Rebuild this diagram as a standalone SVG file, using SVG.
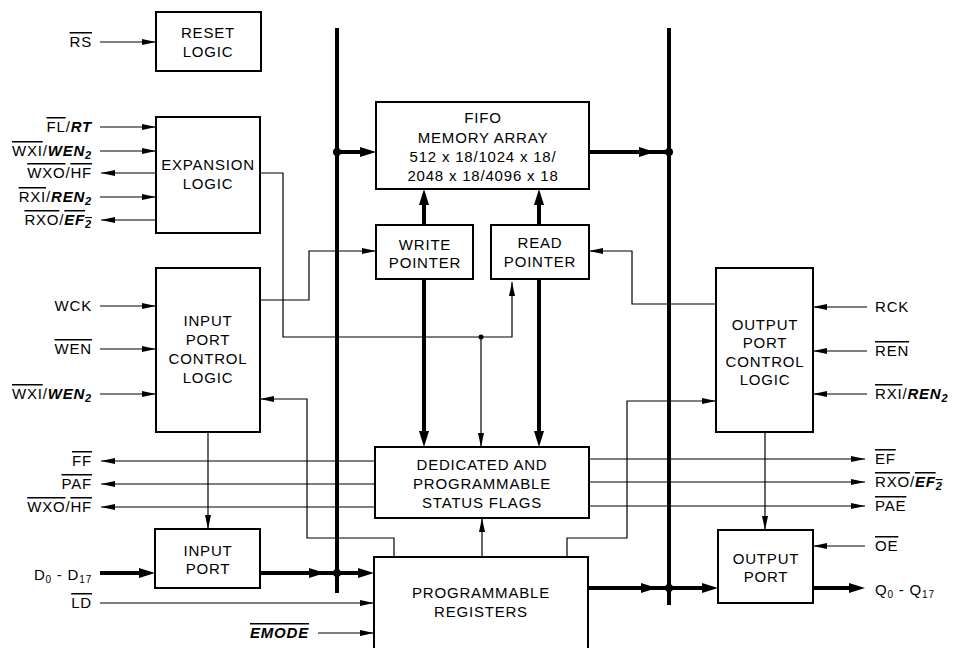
<svg xmlns="http://www.w3.org/2000/svg" width="953" height="648" viewBox="0 0 953 648">
<defs>
<marker id="ah" markerUnits="userSpaceOnUse" markerWidth="14" markerHeight="6" refX="14" refY="3" orient="auto"><path d="M0,0 L14,3 L0,6 z" fill="#000"/></marker>
<marker id="AH" markerUnits="userSpaceOnUse" markerWidth="16" markerHeight="10" refX="8" refY="5" orient="auto"><path d="M0,0 L16,5 L0,10 z" fill="#000"/></marker>
<style>
.box{fill:#fff;stroke:#000;stroke-width:2}
.t{font-family:"Liberation Sans",Arial,sans-serif;font-size:15px;letter-spacing:0.8px;fill:#000}
.c{text-anchor:middle}
.r{text-anchor:end}
.w{stroke:#000;stroke-width:1.2;fill:none}
.wa{stroke:#000;stroke-width:1.2;fill:none;marker-end:url(#ah)}
.k{stroke:#000;stroke-width:4;fill:none}
.ka{stroke:#000;stroke-width:4;fill:none;marker-end:url(#AH)}
.bi{font-weight:bold;font-style:italic}
.o{text-decoration:overline}
.dot{fill:#000}
</style>
</defs>
<rect width="953" height="648" fill="#fff"/>

<g id="connectors">
  <path class="k" d="M337,28 V593 M669,28 V605"/>
  <path class="ka" d="M337,152 H368"/>
  <path class="k" d="M589,152 H669"/>
  <path class="ka" d="M600,152 H647"/>
  <path class="ka" d="M424,225 V197"/>
  <path class="ka" d="M539,225 V197"/>
  <path class="ka" d="M424,279 V439"/>
  <path class="ka" d="M539,279 V439"/>
  <path class="ka" d="M100,573 H147"/>
  <path class="ka" d="M260,573 H366"/>
  <path class="ka" d="M280,573 H317"/>
  <path class="ka" d="M588,588 H710"/>
  <path class="ka" d="M600,588 H649"/>
  <path class="ka" d="M813,588 H857"/>

  <path class="wa" d="M100,42 H156"/>
  <path class="wa" d="M100,127 H156"/>
  <path class="wa" d="M100,151 H156"/>
  <path class="wa" d="M156,173 H101"/>
  <path class="wa" d="M100,197 H156"/>
  <path class="wa" d="M156,220 H101"/>
  <path class="wa" d="M100,306 H156"/>
  <path class="wa" d="M100,349 H156"/>
  <path class="wa" d="M100,394 H156"/>
  <path class="wa" d="M375,461 H101"/>
  <path class="wa" d="M375,484 H101"/>
  <path class="wa" d="M375,507 H101"/>
  <path class="wa" d="M100,603 H374"/>
  <path class="wa" d="M318,633 H374"/>
  <path class="wa" d="M867,307 H813"/>
  <path class="wa" d="M867,351 H813"/>
  <path class="wa" d="M867,394 H813"/>
  <path class="wa" d="M589,459 H865"/>
  <path class="wa" d="M589,482 H865"/>
  <path class="wa" d="M589,506 H865"/>
  <path class="wa" d="M865,546 H813"/>
  <path class="wa" d="M260,173 H283 V337 H512 V282"/>
  <path class="wa" d="M481,337 V447"/>
  <path class="wa" d="M260,300 H309 V251 H376"/>
  <path class="wa" d="M394,557 V538 H307 V399 H260"/>
  <path class="wa" d="M567,557 V538 H627 V401 H716"/>
  <path class="wa" d="M716,304 H632 V251 H589"/>
  <path class="wa" d="M208,432 V529"/>
  <path class="wa" d="M765,432 V530"/>
  <path class="wa" d="M482,557 V518"/>

  <circle class="dot" cx="337" cy="152" r="4"/>
  <circle class="dot" cx="669" cy="152" r="4"/>
  <circle class="dot" cx="337" cy="573" r="4"/>
  <circle class="dot" cx="669" cy="588" r="4"/>
  <circle class="dot" cx="481" cy="337" r="2.5"/>
</g>

<g id="reset-logic">
  <rect class="box" x="156" y="12" width="105" height="59"/>
  <text class="t c" x="208" y="38">RESET</text>
  <text class="t c" x="208" y="57">LOGIC</text>
</g>
<g id="expansion-logic">
  <rect class="box" x="156" y="117" width="104" height="116"/>
  <text class="t c" x="208" y="170">EXPANSION</text>
  <text class="t c" x="208" y="189">LOGIC</text>
</g>
<g id="input-port-control-logic">
  <rect class="box" x="156" y="268" width="104" height="164"/>
  <text class="t c" x="208" y="326">INPUT</text>
  <text class="t c" x="208" y="345">PORT</text>
  <text class="t c" x="208" y="364">CONTROL</text>
  <text class="t c" x="208" y="383">LOGIC</text>
</g>
<g id="input-port">
  <rect class="box" x="155" y="529" width="105" height="59"/>
  <text class="t c" x="208" y="556">INPUT</text>
  <text class="t c" x="208" y="574">PORT</text>
</g>
<g id="fifo-memory-array">
  <rect class="box" x="376" y="102" width="213" height="87"/>
  <text class="t c" x="483" y="123">FIFO</text>
  <text class="t c" x="483" y="143">MEMORY ARRAY</text>
  <text class="t c" x="483" y="162">512 x 18/1024 x 18/</text>
  <text class="t c" x="483" y="181">2048 x 18/4096 x 18</text>
</g>
<g id="write-pointer">
  <rect class="box" x="376" y="225" width="97" height="54"/>
  <text class="t c" x="425" y="250">WRITE</text>
  <text class="t c" x="425" y="268">POINTER</text>
</g>
<g id="read-pointer">
  <rect class="box" x="491" y="225" width="98" height="54"/>
  <text class="t c" x="540" y="248">READ</text>
  <text class="t c" x="540" y="267">POINTER</text>
</g>
<g id="status-flags">
  <rect class="box" x="375" y="447" width="214" height="71"/>
  <text class="t c" x="482" y="470">DEDICATED AND</text>
  <text class="t c" x="482" y="489">PROGRAMMABLE</text>
  <text class="t c" x="482" y="508">STATUS FLAGS</text>
</g>
<g id="programmable-registers">
  <rect class="box" x="374" y="557" width="214" height="110"/>
  <text class="t c" x="481" y="598">PROGRAMMABLE</text>
  <text class="t c" x="481" y="617">REGISTERS</text>
</g>
<g id="output-port-control-logic">
  <rect class="box" x="716" y="268" width="97" height="164"/>
  <text class="t c" x="765" y="330">OUTPUT</text>
  <text class="t c" x="765" y="348">PORT</text>
  <text class="t c" x="765" y="367">CONTROL</text>
  <text class="t c" x="765" y="385">LOGIC</text>
</g>
<g id="output-port">
  <rect class="box" x="718" y="530" width="95" height="73"/>
  <text class="t c" x="766" y="564">OUTPUT</text>
  <text class="t c" x="766" y="582">PORT</text>
</g>

<g id="labels">
  <text class="t r" x="92" y="47"><tspan class="o">RS</tspan></text>
  <text class="t r" x="92" y="132"><tspan class="o">FL</tspan>/<tspan class="bi">RT</tspan></text>
  <text class="t r" x="92" y="156"><tspan class="o">WXI</tspan>/<tspan class="bi">WEN<tspan font-size="11" dy="3">2</tspan></tspan></text>
  <text class="t r" x="92" y="178"><tspan class="o">WXO</tspan>/<tspan class="o">HF</tspan></text>
  <text class="t r" x="92" y="202"><tspan class="o">RXI</tspan>/<tspan class="bi">REN<tspan font-size="11" dy="3">2</tspan></tspan></text>
  <text class="t r" x="92" y="225"><tspan class="o">RXO</tspan>/<tspan class="bi o">EF<tspan font-size="11" dy="3">2</tspan></tspan></text>
  <text class="t r" x="92" y="311">WCK</text>
  <text class="t r" x="92" y="354"><tspan class="o">WEN</tspan></text>
  <text class="t r" x="92" y="399"><tspan class="o">WXI</tspan>/<tspan class="bi">WEN<tspan font-size="11" dy="3">2</tspan></tspan></text>
  <text class="t r" x="92" y="466"><tspan class="o">FF</tspan></text>
  <text class="t r" x="92" y="489"><tspan class="o">PAF</tspan></text>
  <text class="t r" x="92" y="512"><tspan class="o">WXO</tspan>/<tspan class="o">HF</tspan></text>
  <text class="t r" x="92" y="580">D<tspan font-size="10" dy="3">0</tspan><tspan dy="-3"> - D</tspan><tspan font-size="10" dy="3">17</tspan></text>
  <text class="t r" x="92" y="608"><tspan class="o">LD</tspan></text>
  <text class="t r" x="309" y="638"><tspan class="bi o">EMODE</tspan></text>
  <text class="t" x="875" y="312">RCK</text>
  <text class="t" x="875" y="356"><tspan class="o">REN</tspan></text>
  <text class="t" x="875" y="399"><tspan class="o">RXI</tspan>/<tspan class="bi">REN<tspan font-size="11" dy="3">2</tspan></tspan></text>
  <text class="t" x="875" y="464"><tspan class="o">EF</tspan></text>
  <text class="t" x="875" y="487"><tspan class="o">RXO</tspan>/<tspan class="bi o">EF<tspan font-size="11" dy="3">2</tspan></tspan></text>
  <text class="t" x="875" y="511"><tspan class="o">PAE</tspan></text>
  <text class="t" x="875" y="551"><tspan class="o">OE</tspan></text>
  <text class="t" x="875" y="595">Q<tspan font-size="10" dy="3">0</tspan><tspan dy="-3"> - Q</tspan><tspan font-size="10" dy="3">17</tspan></text>
</g>
</svg>
